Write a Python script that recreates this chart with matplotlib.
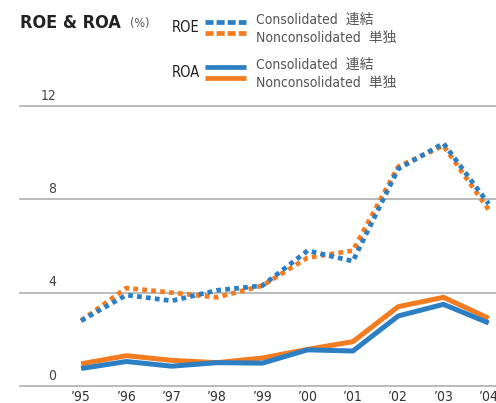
import matplotlib
matplotlib.use("Agg")
import matplotlib.pyplot as plt

plt.rcParams['font.family'] = ['DejaVu Sans', 'Noto Sans CJK JP']
plt.rcParams['font.stretch'] = 'condensed'

years = ["’95", "’96", "’97", "’98", "’99", "’00", "’01", "’02", "’03", "’04"]
roe_cons = [2.8, 3.9, 3.65, 4.1, 4.3, 5.8, 5.35, 9.3, 10.4, 7.8]
roe_noncons = [2.8, 4.2, 4.0, 3.8, 4.3, 5.5, 5.8, 9.4, 10.3, 7.55]
roa_cons = [0.75, 1.05, 0.85, 1.0, 0.98, 1.55, 1.5, 3.0, 3.5, 2.7]
roa_noncons = [0.95, 1.3, 1.1, 1.0, 1.2, 1.57, 1.9, 3.4, 3.8, 2.9]
yticks = [0, 4, 8, 12]

BLUE = '#2c7fc3'
ORANGE = '#f47c20'
GRID = '#b5b5b5'

fig = plt.figure(figsize=(4.96, 4.03), dpi=100)
ax = fig.add_axes([20/496, 1 - 386/403, 476/496, 280/403])
x = list(range(len(years)))

ax.set_ylim(0, 12)
ax.set_xlim(-1.35, 9.16)
for t in yticks:
    ax.axhline(t, color=GRID, lw=1.3, zorder=1, clip_on=False)
    ax.text(36/476, t + 0.15, str(t), transform=ax.get_yaxis_transform(),
            ha='right', va='bottom', fontsize=10, color='#444444')

lw_sol = 3.6
lw_dot = 3.4
ax.plot(x, roa_noncons, color=ORANGE, lw=lw_sol, solid_capstyle='butt', zorder=3, clip_on=False)
ax.plot(x, roa_cons, color=BLUE, lw=lw_sol, solid_capstyle='butt', zorder=4, clip_on=False)
ax.plot(x, roe_noncons, color=ORANGE, lw=lw_dot, linestyle=(0, (1, 0.9)), zorder=3, clip_on=False)
ax.plot(x, roe_cons, color=BLUE, lw=lw_dot, linestyle=(0, (1, 0.9)), zorder=4, clip_on=False)

ax.set_xticks(x)
ax.set_xticklabels(years, fontsize=10, color='#333333')
ax.tick_params(axis='x', length=0, pad=3)
ax.set_yticks([])
for s in ax.spines.values():
    s.set_visible(False)

# Title and legend
fig.text(20/496, 1 - 23/403, 'ROE & ROA', fontsize=13, fontweight='bold', color='#222222', va='center', ha='left')
fig.text(130/496, 1 - 24/403, '(%)', fontsize=9, color='#555555', va='center', ha='left')

def legend_block(label, y_top, y_bot, dotted):
    fig.text(172/496, 1 - (y_top + y_bot) / 2 / 403, label, fontsize=10.5, color='#222222', va='center', ha='left')
    ls = (0, (1.7, 0.65)) if dotted else '-'
    for yy, c in ((y_top, BLUE), (y_bot, ORANGE)):
        fig.add_artist(plt.Line2D([205/496, 246/496], [1 - yy/403, 1 - yy/403], color=c,
                                  lw=3.4, linestyle=ls, solid_capstyle='butt', dash_capstyle='butt'))
    fig.text(256/496, 1 - (y_top - 2)/403, 'Consolidated  連結', fontsize=10, color='#555555', va='center', ha='left')
    fig.text(256/496, 1 - (y_bot + 5)/403, 'Nonconsolidated  単独', fontsize=10, color='#555555', va='center', ha='left')

legend_block('ROE', 22, 33, True)
legend_block('ROA', 67, 78, False)

fig.savefig('out.png', dpi=100)
